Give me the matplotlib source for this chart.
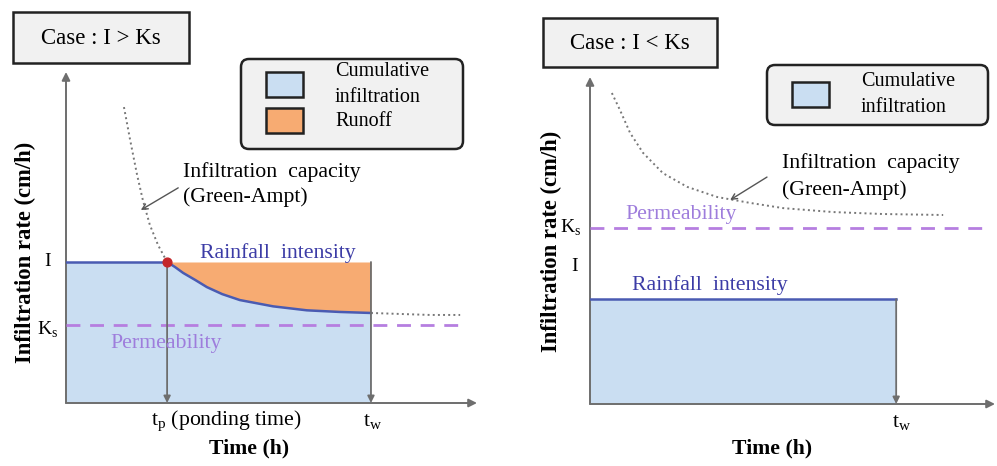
import matplotlib
matplotlib.use("Agg")
import matplotlib.pyplot as plt
import numpy as np
from matplotlib.patches import Rectangle, FancyBboxPatch

plt.rcParams['font.family'] = ['Liberation Serif', 'DejaVu Serif']

# left panel: case I > Ks
left_tp = 2.46
left_tw = 7.42
left_I = 4.26
left_Ks = 2.36
left_cap_t = [1.41, 1.56, 1.73, 1.87, 2.04, 2.24, 2.46, 2.65, 2.85, 3.14, 3.43, 3.80, 4.23,
              5.04, 5.86, 6.67, 7.42, 8.13, 8.86, 9.59]
left_cap_f = [8.94, 7.95, 6.89, 6.13, 5.38, 4.77, 4.26, 4.11, 3.93, 3.72, 3.50, 3.29, 3.11,
              2.92, 2.80, 2.75, 2.72, 2.69, 2.66, 2.66]
left_ks_end = 9.59

# right panel: case I < Ks
right_tw = 7.56
right_I = 3.21
right_Ks = 5.38
right_I_label = 4.19
right_cap_t = [0.54, 0.74, 0.99, 1.31, 1.80, 2.40, 3.14, 3.95, 4.77, 6.00, 7.23, 8.72]
right_cap_f = [9.51, 8.99, 8.29, 7.68, 7.06, 6.64, 6.33, 6.15, 5.99, 5.87, 5.81, 5.78]
right_ks_end = 9.75

fill_blue = '#cadef2'
line_blue = '#4a5bb2'
fill_orange = '#f7ab72'
purple = '#b67ee0'
perm_text = '#9e7ddc'
rain_text = '#3c3ca6'
gray = '#6e6e6e'
FS = 15.7

fig = plt.figure(figsize=(9.97, 4.66), dpi=100)

# overlay in pixel coordinates for boxes
over = fig.add_axes([0, 0, 1, 1])
over.set_xlim(0, 997)
over.set_ylim(466, 0)
over.axis('off')


def case_box(x0, y0, x1, y1, label):
    over.add_patch(Rectangle((x0, y0), x1 - x0, y1 - y0, facecolor='#f1f1f1',
                             edgecolor='#222222', lw=1.8))
    over.text((x0 + x1) / 2, (y0 + y1) / 2 + 1, label, ha='center', va='center', fontsize=16.5)


def legend_box(x0, y0, x1, y1, entries):
    over.add_patch(FancyBboxPatch((x0 + 8, y0 + 8), x1 - x0 - 16, y1 - y0 - 16,
                                  boxstyle='round,pad=8', facecolor='#f1f1f1',
                                  edgecolor='#222222', lw=1.8))
    for (sy, color, lines, ty) in entries:
        over.add_patch(Rectangle((x0 + 25, sy), 37, 25, facecolor=color,
                                 edgecolor='#222222', lw=1.8))
        for k, txt in enumerate(lines):
            over.text(x0 + 94, ty + k * 25, txt, ha='left', va='center', fontsize=14.5)


case_box(13, 12, 189, 63, 'Case : I > Ks')
case_box(543, 18, 717, 67, 'Case : I < Ks')
legend_box(241, 59, 463, 149, [(72, fill_blue, ['Cumulative', 'infiltration'], 72),
                               (108, fill_orange, ['Runoff'], 121)])
legend_box(767, 65, 988, 125, [(82, fill_blue, ['Cumulative', 'infiltration'], 82)])


def base_axes(rect):
    ax = fig.add_axes(rect)
    ax.set_xlim(0, 10)
    ax.set_ylim(0, 10)
    ax.axis('off')
    arrow = dict(arrowstyle='-|>', color=gray, lw=1.4, mutation_scale=12, shrinkA=0, shrinkB=0)
    ax.annotate('', xy=(0, 10), xytext=(0, 0), arrowprops=arrow, annotation_clip=False)
    ax.annotate('', xy=(10, 0), xytext=(0, 0), arrowprops=arrow, annotation_clip=False)
    return ax


def drop(ax, x, y):
    ax.annotate('', xy=(x, 0), xytext=(x, y), annotation_clip=False,
                arrowprops=dict(arrowstyle='-|>', color=gray, lw=1.3, mutation_scale=10,
                                shrinkA=0, shrinkB=0))


# ---- left ----
axl = base_axes([66 / 997, 63 / 466, 411 / 997, 331 / 466])
t = np.array(left_cap_t)
f = np.array(left_cap_f)
mid = (t >= left_tp) & (t <= left_tw)
tm, fm = t[mid], f[mid]
axl.fill_between(np.concatenate([[0], tm]), np.concatenate([[left_I], fm]), 0,
                 color=fill_blue, lw=0, zorder=1)
axl.fill_between(tm, fm, left_I, color=fill_orange, lw=0, zorder=1)
axl.plot([0, left_tp], [left_I, left_I], color=line_blue, lw=1.8, zorder=3)
axl.plot(tm, fm, color=line_blue, lw=1.8, zorder=3, solid_joinstyle='round')
axl.plot(t[t <= left_tp], f[t <= left_tp], color='#777777', lw=1.4, ls=':', zorder=3)
axl.plot(t[t >= left_tw], f[t >= left_tw], color='#777777', lw=1.4, ls=':', zorder=3)
axl.plot([0, left_ks_end], [left_Ks, left_Ks], color=purple, lw=2, dashes=(5, 3.5), zorder=3)
drop(axl, left_tp, left_I)
drop(axl, left_tw, left_I)
axl.scatter([left_tp], [left_I], s=40, color='#c4262a', zorder=5)

axl.annotate('', xy=(1.82, 5.83), xytext=(2.73, 6.50),
             arrowprops=dict(arrowstyle='->', color='#555555', lw=1.0, shrinkA=0, shrinkB=0))
axl.text(2.85, 6.98, 'Infiltration  capacity', fontsize=FS, va='center', ha='left')
axl.text(2.85, 6.23, '(Green-Ampt)', fontsize=FS, va='center', ha='left')
axl.text(3.26, 4.53, 'Rainfall  intensity', fontsize=FS, va='center', ha='left', color=rain_text)
axl.text(1.07, 1.81, 'Permeability', fontsize=FS, va='center', ha='left', color=perm_text)
axl.text(-0.44, left_I, 'I', fontsize=14, va='center', ha='center', clip_on=False)
axl.text(-0.44, 2.2, r'K$_\mathregular{s}$', fontsize=14, va='center', ha='center', clip_on=False)
axl.text(3.9, -0.57, r't$_\mathregular{p}$ (ponding time)', fontsize=FS, va='center', ha='center')
axl.text(7.47, -0.57, r't$_\mathregular{w}$', fontsize=FS, va='center', ha='center')
axl.text(4.45, -1.36, 'Time (h)', fontsize=FS, va='center', ha='center', fontweight='bold')
axl.text(-0.99, 4.56, 'Infiltration rate (cm/h)', fontsize=16.3, va='center', ha='center',
         rotation=90, fontweight='bold')

# ---- right ----
axr = base_axes([590 / 997, 62 / 466, 405 / 997, 327 / 466])
axr.fill_between([0, right_tw], [right_I, right_I], 0, color=fill_blue, lw=0, zorder=1)
axr.plot([0, right_tw], [right_I, right_I], color=line_blue, lw=1.8, zorder=3)
axr.plot(right_cap_t, right_cap_f, color='#777777', lw=1.4, ls=':', zorder=3)
axr.plot([0, right_ks_end], [right_Ks, right_Ks], color=purple, lw=2, dashes=(5, 3.5), zorder=3)
drop(axr, right_tw, right_I)

axr.annotate('', xy=(3.46, 6.24), xytext=(4.37, 6.94),
             arrowprops=dict(arrowstyle='->', color='#555555', lw=1.0, shrinkA=0, shrinkB=0))
axr.text(4.74, 7.37, 'Infiltration  capacity', fontsize=FS, va='center', ha='left')
axr.text(4.74, 6.54, '(Green-Ampt)', fontsize=FS, va='center', ha='left')
axr.text(0.86, 5.78, 'Permeability', fontsize=FS, va='center', ha='left', color=perm_text)
axr.text(1.04, 3.64, 'Rainfall  intensity', fontsize=FS, va='center', ha='left', color=rain_text)
axr.text(-0.49, right_Ks, r'K$_\mathregular{s}$', fontsize=14, va='center', ha='center', clip_on=False)
axr.text(-0.37, right_I_label, 'I', fontsize=14, va='center', ha='center', clip_on=False)
axr.text(7.7, -0.58, r't$_\mathregular{w}$', fontsize=FS, va='center', ha='center')
axr.text(4.49, -1.35, 'Time (h)', fontsize=FS, va='center', ha='center', fontweight='bold')
axr.text(-0.96, 4.98, 'Infiltration rate (cm/h)', fontsize=16.3, va='center', ha='center',
         rotation=90, fontweight='bold')

fig.savefig('out.png', dpi=100)
